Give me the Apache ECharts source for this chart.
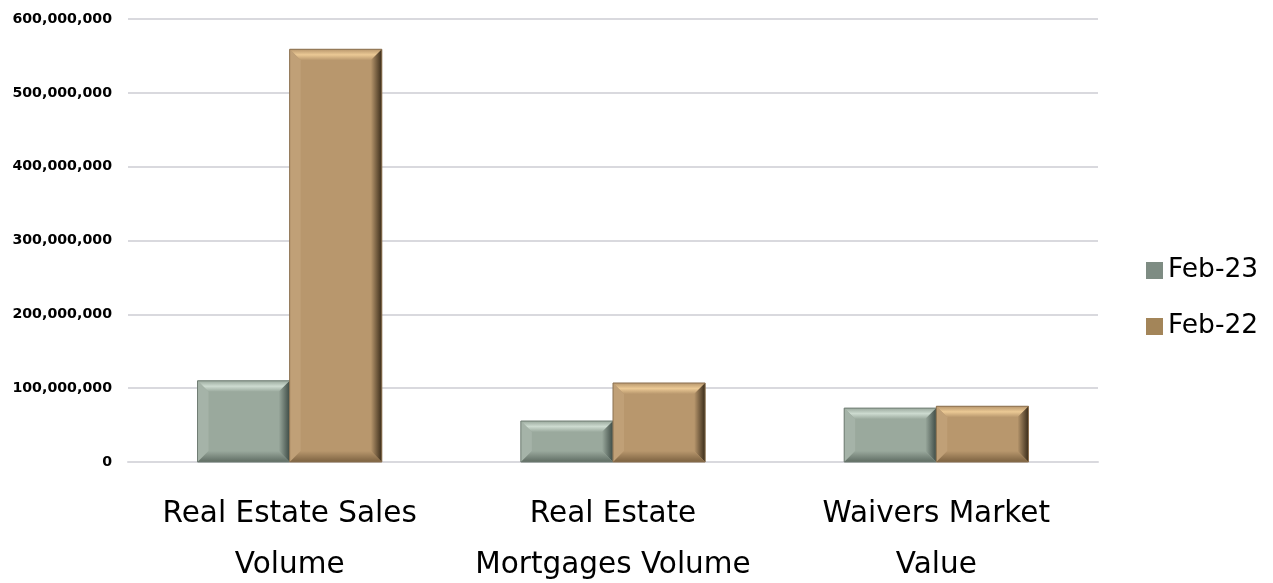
<!DOCTYPE html>
<html><head><meta charset="utf-8">
<script src="https://cdn.jsdelivr.net/npm/echarts@6/dist/echarts.min.js"></script>
<style>html,body{margin:0;padding:0;background:#fff}#c{width:1273px;height:583px}</style>
</head><body><div id="c"></div>
<script>
const categories = ['Real Estate Sales\nVolume', 'Real Estate\nMortgages Volume', 'Waivers Market\nValue'];
const seriesNames = ['Feb-23', 'Feb-22'];
const feb23 = [110000000, 55500000, 73000000];
const feb22 = [559000000, 107000000, 75500000];
const yTicks = { min: 0, max: 600000000, interval: 100000000 };

const palettes = [
  { face: '#9aa99d', top: '#cddbd0', left: '#a5b3a8', right: '#3e4b45', bottom: '#5f6c63', edge: '#6f7c73' },
  { face: '#b8976d', top: '#ebc995', left: '#c0a077', right: '#3a2c1a', bottom: '#7c6241', edge: '#8a7050' }
];

function makeRender(idx) {
  return function (params, api) {
    const cat = api.value(0), v = api.value(1);
    const base = api.coord([cat, 0]);
    const topP = api.coord([cat, v]);
    const cw = api.size([1, 0])[0];
    const bw = cw * 0.285;
    const x0 = idx === 0 ? base[0] - bw : base[0];
    const x1 = x0 + bw;
    const y0 = topP[1], y1 = base[1];
    const b = Math.min(11, (y1 - y0) / 2.5);
    const p = palettes[idx];
    const poly = (pts, fill) => ({ type: 'polygon', shape: { points: pts }, style: { fill: fill } });
    return {
      type: 'group',
      children: [
        { type: 'rect', shape: { x: x0, y: y0, width: bw, height: y1 - y0 }, style: { fill: p.face } },
        poly([[x0, y0], [x1, y0], [x1 - b, y0 + b], [x0 + b, y0 + b]],
          new echarts.graphic.LinearGradient(0, 0, 0, 1, [{ offset: 0, color: p.face }, { offset: 0.5, color: p.top }, { offset: 1, color: p.face }])),
        poly([[x0, y0], [x0 + b, y0 + b], [x0 + b, y1 - b], [x0, y1]], p.left),
        poly([[x1, y0], [x1 - b, y0 + b], [x1 - b, y1 - b], [x1, y1]],
          new echarts.graphic.LinearGradient(0, 0, 1, 0, [{ offset: 0, color: p.face }, { offset: 1, color: p.right }])),
        poly([[x0, y1], [x1, y1], [x1 - b, y1 - b], [x0 + b, y1 - b]],
          new echarts.graphic.LinearGradient(0, 0, 0, 1, [{ offset: 0, color: p.face }, { offset: 1, color: p.bottom }])),
        { type: 'rect', shape: { x: x0, y: y0, width: bw, height: y1 - y0 }, style: { fill: 'none', stroke: p.edge, lineWidth: 1 } }
      ]
    };
  };
}

const chart = echarts.init(document.getElementById('c'), null, { renderer: 'canvas' });
chart.setOption({
  animation: false,
  grid: { left: 128, right: 175, top: 19, bottom: 121, outerBoundsMode: 'none', containLabel: false },
  legend: {
    orient: 'vertical', left: 1141, top: 252, itemGap: 29,
    itemWidth: 17, itemHeight: 17, icon: 'rect',
    textStyle: { fontFamily: 'DejaVu Sans', fontSize: 26.5, color: '#000' },
    data: seriesNames
  },
  xAxis: {
    type: 'category', data: categories,
    axisLine: { show: true, lineStyle: { color: '#d9d9de', width: 2 } },
    axisTick: { show: false },
    axisLabel: { fontFamily: 'DejaVu Sans', fontSize: 29.5, color: '#000', lineHeight: 51, margin: 27, interval: 0 }
  },
  yAxis: {
    type: 'value', min: yTicks.min, max: yTicks.max, interval: yTicks.interval,
    axisLine: { show: false }, axisTick: { show: false },
    splitLine: { lineStyle: { color: '#d9d9de', width: 2 } },
    axisLabel: { fontFamily: 'DejaVu Sans', fontWeight: 'bold', fontSize: 14.2, color: '#000', margin: 16,
      formatter: v => v.toLocaleString('en-US') }
  },
  series: [
    { name: seriesNames[0], type: 'custom', renderItem: makeRender(0), itemStyle: { color: '#7e8c83' },
      encode: { x: 0, y: 1 }, data: feb23.map((v, i) => [i, v]) },
    { name: seriesNames[1], type: 'custom', renderItem: makeRender(1), itemStyle: { color: '#a38559' },
      encode: { x: 0, y: 1 }, data: feb22.map((v, i) => [i, v]) }
  ]
});
</script></body></html>
